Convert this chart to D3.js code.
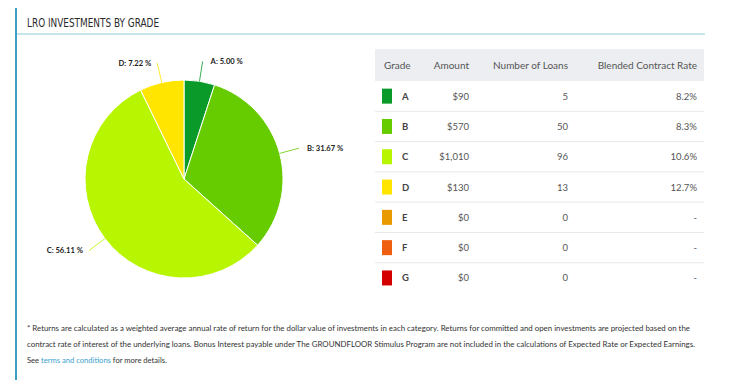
<!DOCTYPE html>
<html>
<head>
<meta charset="utf-8">
<script src="https://cdn.jsdelivr.net/npm/d3@7"></script>
<style>
  body { margin: 0; background: #fff; }
  svg { display: block; }
</style>
</head>
<body>
<div id="chart"></div>
<script>
var grades = ["A", "B", "C", "D", "E", "F", "G"];
var amounts = [90, 570, 1010, 130, 0, 0, 0];
var loans = [5, 50, 96, 13, 0, 0, 0];
var rates = ["8.2%", "8.3%", "10.6%", "12.7%", "-", "-", "-"];
var gradeColors = ["#0a9a2a", "#66cc00", "#b8f500", "#ffe500", "#e89a00", "#ee6010", "#d40000"];
var headers = ["Grade", "Amount", "Number of Loans", "Blended Contract Rate"];
var footnote = [
	"* Returns are calculated as a weighted average annual rate of return for the dollar value of investments in each category. Returns for committed and open investments are projected based on the",
	"contract rate of interest of the underlying loans. Bonus Interest payable under The GROUNDFLOOR Stimulus Program are not included in the calculations of Expected Rate or Expected Earnings."
];

var width = 730,
	height = 387;

var svg = d3.select("#chart").append("svg")
	.attr("width", width)
	.attr("height", height);

// frame: left bar + title rule
svg.append("line")
	.attr("x1", 16).attr("x2", 16).attr("y1", 8).attr("y2", 380)
	.style("stroke", "#3d9fc4").style("stroke-width", 2);
svg.append("line")
	.attr("x1", 17).attr("x2", 705).attr("y1", 34).attr("y2", 34)
	.style("stroke", "#8ccbd9").style("stroke-width", 1);
svg.append("text")
	.attr("x", 27).attr("y", 27)
	.attr("textLength", 132)
	.attr("lengthAdjust", "spacingAndGlyphs")
	.style("font-family", "'DejaVu Sans Condensed', 'Liberation Sans', sans-serif")
	.style("font-size", "13px")
	.style("fill", "#2a2a2a")
	.text("LRO INVESTMENTS BY GRADE");

// pie
var cx = 184, cy = 179, r = 99;
var total = d3.sum(amounts);
var pieData = d3.pie().sort(null).value(function(d) { return d.amount; })(
	grades.map(function(g, i) { return { grade: g, amount: amounts[i], color: gradeColors[i] }; })
		.filter(function(d) { return d.amount > 0; })
);
var arc = d3.arc().innerRadius(0).outerRadius(r);
var pieG = svg.append("g").attr("transform", "translate(" + cx + "," + cy + ")");
pieG.selectAll("path.slice")
	.data(pieData)
	.enter()
		.append("path")
		.attr("class", "slice")
		.attr("d", arc)
		.style("fill", function(d) { return d.data.color; })
		.style("stroke", "#fff")
		.style("stroke-width", "1px");

var labelDist = 20;
pieData.forEach(function(d) {
	var a = (d.startAngle + d.endAngle) / 2;
	var sx = Math.sin(a), sy = -Math.cos(a);
	var x1 = sx * r, y1 = sy * r;
	var x2 = sx * (r + labelDist), y2 = sy * (r + labelDist);
	var right = sx >= 0;
	pieG.append("path")
		.attr("d", "M" + x1 + "," + y1 + "L" + x2 + "," + y2)
		.style("fill", "none")
		.style("stroke", d.data.color)
		.style("stroke-width", 1)
		.style("opacity", 0.8);
	pieG.append("text")
		.attr("x", x2 + (right ? 8 : -6))
		.attr("y", y2 + 2.5)
		.attr("text-anchor", right ? "start" : "end")
		.style("font-family", "Lato, 'Open Sans', sans-serif")
		.style("font-size", "7.6px")
		.style("font-weight", "bold")
		.style("fill", "#222")
		.text(d.data.grade + ": " + (d.data.amount / total * 100).toFixed(2) + " %");
});

// table
var tx0 = 375, tx1 = 704, headTop = 49, headH = 32, rowH = 30.3;
var tableFont = "Lato, 'Open Sans', sans-serif";
var y = d3.scaleBand().domain(grades).range([headTop + headH, headTop + headH + rowH * grades.length]);

svg.append("rect")
	.attr("x", tx0).attr("y", headTop).attr("width", tx1 - tx0).attr("height", headH)
	.style("fill", "#eceef1");

var headX = [384, 469, 568, 697];
var headAnchor = ["start", "end", "end", "end"];
svg.selectAll("text.head")
	.data(headers)
	.enter()
		.append("text")
		.attr("class", "head")
		.attr("x", function(d, i) { return headX[i]; })
		.attr("y", headTop + headH / 2 + 3.5)
		.attr("text-anchor", function(d, i) { return headAnchor[i]; })
		.style("font-family", tableFont)
		.style("font-size", "10px")
		.style("fill", "#555")
		.text(function(d) { return d; });

var rows = svg.selectAll("g.row")
	.data(grades)
	.enter()
		.append("g")
		.attr("class", "row")
		.attr("transform", function(d) { return "translate(0," + y(d) + ")"; });

rows.filter(function(d, i) { return i < grades.length - 1; })
	.append("line")
	.attr("x1", tx0).attr("x2", tx1)
	.attr("y1", y.bandwidth()).attr("y2", y.bandwidth())
	.style("stroke", "#e8e9ec").style("stroke-width", 1);

rows.append("rect")
	.attr("x", 382).attr("y", y.bandwidth() / 2 - 7.5)
	.attr("width", 10).attr("height", 15)
	.style("fill", function(d, i) { return gradeColors[i]; });

rows.append("text")
	.attr("x", 402).attr("y", y.bandwidth() / 2 + 3.5)
	.style("font-family", tableFont).style("font-size", "9.5px").style("font-weight", "bold")
	.style("fill", "#444")
	.text(function(d) { return d; });

var fmt = d3.format(",");
rows.append("text")
	.attr("x", 469).attr("y", y.bandwidth() / 2 + 3.5).attr("text-anchor", "end")
	.style("font-family", tableFont).style("font-size", "9.5px").style("fill", "#555")
	.text(function(d, i) { return "$" + fmt(amounts[i]); });

rows.append("text")
	.attr("x", 568).attr("y", y.bandwidth() / 2 + 3.5).attr("text-anchor", "end")
	.style("font-family", tableFont).style("font-size", "9.5px").style("fill", "#555")
	.text(function(d, i) { return loans[i]; });

rows.append("text")
	.attr("x", 697).attr("y", y.bandwidth() / 2 + 3.5).attr("text-anchor", "end")
	.style("font-family", tableFont).style("font-size", "9.5px").style("fill", "#555")
	.text(function(d, i) { return rates[i]; });

// footnote
var noteY = [331, 347, 363];
footnote.forEach(function(line, i) {
	svg.append("text")
		.attr("x", 27).attr("y", noteY[i])
		.attr("textLength", i == 0 ? 663 : 668)
		.attr("lengthAdjust", "spacingAndGlyphs")
		.style("font-family", tableFont).style("font-size", "7.6px").style("fill", "#333")
		.text(line);
});
var last = svg.append("text")
	.attr("x", 27).attr("y", noteY[2])
	.style("font-family", tableFont).style("font-size", "7.6px").style("fill", "#333");
last.append("tspan").text("See ");
last.append("tspan").style("fill", "#3a9fd0").text("terms and conditions");
last.append("tspan").text(" for more details.");
</script>
</body>
</html>
